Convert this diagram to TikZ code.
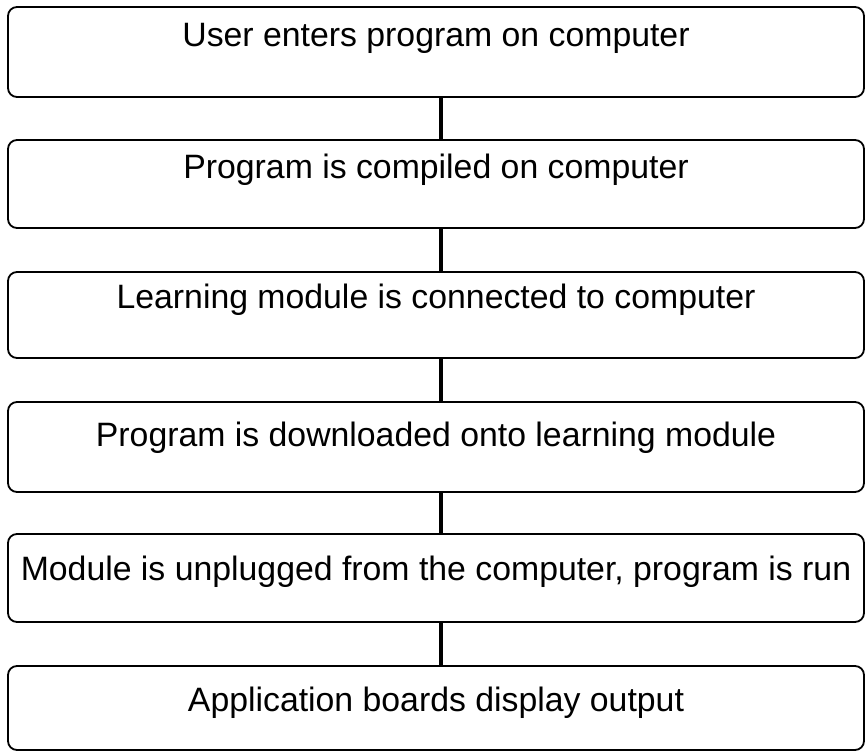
\documentclass[tikz,border=0pt]{standalone}
\usepackage{fontspec}
\setmainfont{Liberation Sans}
\begin{document}
\begin{tikzpicture}[x=1pt,y=-1pt,
  stepbox/.style={draw=black, line width=1.8pt, rounded corners=9pt,
    minimum width=856pt, inner xsep=0pt, inner ysep=0pt, outer sep=0pt,
    anchor=north, font=\fontsize{33.8}{40}\selectfont},
  link/.style={draw=black, line width=3.8pt}]
\useasboundingbox (0,0) rectangle (867,752);
\coordinate (cx) at (441,0);
\node[stepbox, text height=40pt, text depth=50pt] (b1) at (436,7) {User enters program on computer};
\node[stepbox, text height=38pt, text depth=50pt] (b2) at (436,140) {Program is compiled on computer};
\node[stepbox, text height=36pt, text depth=50pt] (b3) at (436,272) {Learning module is connected to computer};
\node[stepbox, text height=44pt, text depth=46pt] (b4) at (436,402) {Program is downloaded onto learning module};
\node[stepbox, text height=46pt, text depth=42pt] (b5) at (436,534) {Module is unplugged from the computer, program is run};
\node[stepbox, text height=45pt, text depth=39pt] (b6) at (436,666) {Application boards display output};
\draw[link] (b1.south -| cx) -- (b2.north -| cx);
\draw[link] (b2.south -| cx) -- (b3.north -| cx);
\draw[link] (b3.south -| cx) -- (b4.north -| cx);
\draw[link] (b4.south -| cx) -- (b5.north -| cx);
\draw[link] (b5.south -| cx) -- (b6.north -| cx);
\end{tikzpicture}
\end{document}
